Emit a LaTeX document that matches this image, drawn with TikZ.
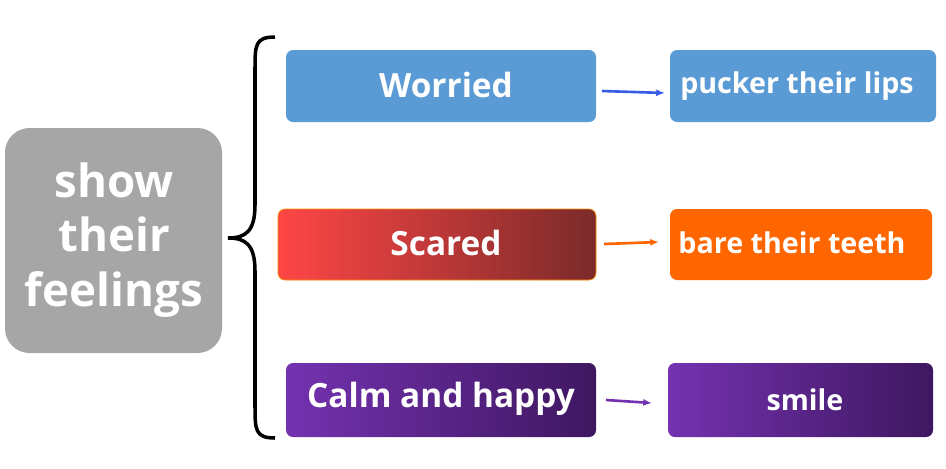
\documentclass[tikz,border=0pt]{standalone}
\usepackage{fontspec}
\setmainfont{Open Sans}
\usetikzlibrary{arrows.meta}
\definecolor{gr}{HTML}{A6A6A6}
\definecolor{bl}{HTML}{5B9BD5}
\definecolor{og}{HTML}{FF6600}
\definecolor{rdA}{HTML}{FF4646}
\definecolor{rdB}{HTML}{7B2A2A}
\definecolor{puA}{HTML}{7432B0}
\definecolor{puB}{HTML}{3E1760}
\begin{document}
\begin{tikzpicture}[x=0.02cm,y=-0.02cm,
 lab/.style={text=white,font=\bfseries\fontsize{19}{23}\selectfont},
 rlab/.style={text=white,font=\bfseries\fontsize{16.3}{20}\selectfont},
 arr/.style={-{Latex[length=5pt,width=4pt]},line width=1.5pt}]
\useasboundingbox[fill=white] (0,0) rectangle (946,468);
\fill[gr,rounded corners=14pt] (5,128) rectangle (222,353);
\node[text=white,align=center,font=\bfseries\fontsize{26}{31}\selectfont] (root) at (114,240) {show\\their\\feelings};
\draw[line width=2pt] (275,37) .. controls (255,37) and (255,45) .. (255,70) -- (255,205) .. controls (255,232) and (245,238) .. (228,238) .. controls (245,238) and (255,244) .. (255,271) -- (255,405) .. controls (255,430) and (255,438) .. (275,438);
\coordinate (tip) at (228,238);
% left column
\fill[bl,rounded corners=4pt] (286,50) rectangle (596,122);
\node[lab] (w) at (446,85) {Worried};
\shade[left color=rdA,right color=rdB,rounded corners=4pt] (278,209) rectangle (596,280);
\draw[orange!90!yellow,rounded corners=4pt] (278,209) rectangle (596,280);
\node[lab] (s) at (446,243) {Scared};
\shade[left color=puA,right color=puB,rounded corners=4pt] (286,363) rectangle (596,437);
\node[lab] (c) at (441,399) {Calm and happy};
% right column
\fill[bl,rounded corners=4pt] (670,50) rectangle (936,122);
\node[rlab] (p) at (797,86) {pucker their lips};
\fill[og,rounded corners=4pt] (670,209) rectangle (932,280);
\node[rlab] (b) at (792,243) {bare their teeth};
\shade[left color=puA,right color=puB,rounded corners=4pt] (668,363) rectangle (933,437);
\node[rlab] (sm) at (805,400) {smile};
% arrows
\coordinate (a1) at (602,91); \coordinate (a2) at (665,93);
\coordinate (b1) at (604,244); \coordinate (b2) at (659,242);
\coordinate (c1) at (606,400); \coordinate (c2) at (652,403);
\draw[arr,color=bl!60!blue] (a1) -- (a2);
\draw[arr,color=og] (b1) -- (b2);
\draw[arr,color=puA] (c1) -- (c2);
\end{tikzpicture}
\end{document}
